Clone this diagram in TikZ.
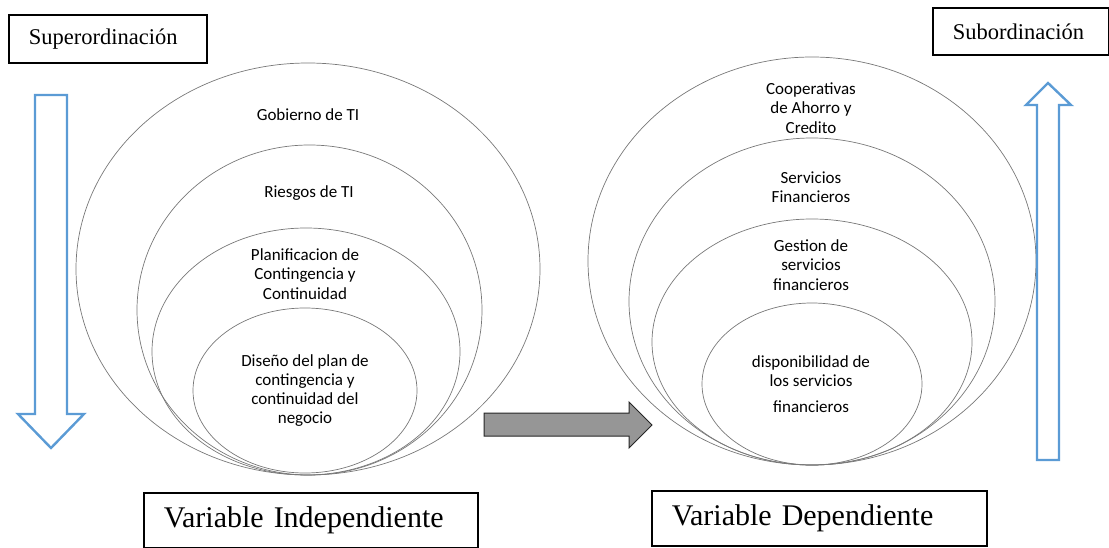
\documentclass[tikz,border=0pt]{standalone}
\usepackage{fontspec}
\setmainfont{Liberation Serif}
\newfontfamily\ringfont{Carlito}
\usetikzlibrary{shapes.geometric}
\definecolor{arrowblue}{RGB}{91,155,213}
\definecolor{ringgray}{RGB}{120,120,120}
\definecolor{blockgray}{RGB}{150,150,150}

\begin{document}
\begin{tikzpicture}[x=1pt,y=-1pt,
  ring/.style={draw=ringgray, line width=0.7pt, ellipse, inner sep=0pt},
  ringtext/.style={font=\ringfont\fontsize{17}{19.2}\selectfont, align=center, inner sep=0pt},
  labelbox/.style={draw=black, line width=1.6pt, anchor=north west, inner ysep=0pt,
    inner xsep=20pt, align=left, font=\fontsize{22.5}{26}\selectfont},
  varbox/.style={labelbox, font=\fontsize{30}{34}\selectfont},
  bluearrow/.style={draw=arrowblue, line width=2.4pt, line join=miter},
  blockarrow/.style={draw=black!85, line width=1pt, fill=blockgray, line join=miter}
  ]
\useasboundingbox (0,0) rectangle (1109,548);

% corner labels
\node[labelbox, minimum height=48pt, text width=158pt] (super) at (8,14) {Superordinación};
\node[labelbox, minimum height=47pt, text width=136pt] (sub) at (932,7) {Subordinación};

% left nest of rings
\node[ring, minimum width=464pt, minimum height=412pt] (L1) at (308,269) {};
\node[ring, minimum width=345pt, minimum height=330pt] (L2) at (309.5,310) {};
\node[ring, minimum width=308pt, minimum height=247pt] (L3) at (306,351.5) {};
\node[ring, minimum width=224pt, minimum height=165pt] (L4) at (305,390.5) {};

\node[ringtext] (tL1) at (308,115) {Gobierno de TI};
\node[ringtext] (tL2) at (309,193) {Riesgos de TI};
\node[ringtext] (tL3) at (305,274) {Planificacion de\\Contingencia y\\Continuidad};
\node[ringtext] (tL4) at (305,390.5) {Diseño del plan de\\contingencia y\\continuidad del\\negocio};

% right nest of rings
\node[ring, minimum width=448pt, minimum height=408pt] (R1) at (812,261) {};
\node[ring, minimum width=366pt, minimum height=327pt] (R2) at (812,301.5) {};
\node[ring, minimum width=320pt, minimum height=246pt] (R3) at (812,342) {};
\node[ring, minimum width=220pt, minimum height=162pt] (R4) at (812,384) {};

\node[ringtext] (tR1) at (811,108) {Cooperativas\\de Ahorro y\\Credito};
\node[ringtext] (tR2) at (811,187.5) {Servicios\\Financieros};
\node[ringtext] (tR3) at (811,265) {Gestion de\\servicios\\financieros};
\node[ringtext] (tR4) at (811,384) {disponibilidad de\\los servicios\\[7pt]financieros};

% block arrow from the independent to the dependent variable
\draw[blockarrow] (484,413) -- (629,413) -- (629,402) -- (652,425) -- (629,448)
  -- (629,436) -- (484,436) -- cycle;

% downward and upward hollow arrows
\draw[bluearrow] (35,95) -- (67,95) -- (67,414) -- (84,414) -- (51,448) -- (18,414)
  -- (35,414) -- cycle;
\draw[bluearrow] (1037,460) -- (1037,105) -- (1026,105) -- (1048,83) -- (1071,105)
  -- (1059,105) -- (1059,460) -- cycle;

% variable captions
\node[varbox, minimum height=55pt, text width=294pt] (indep) at (143,492) {Variable Independiente};
\node[varbox, minimum height=55pt, text width=295pt] (dep) at (651,490) {Variable Dependiente};
\end{tikzpicture}
\end{document}
